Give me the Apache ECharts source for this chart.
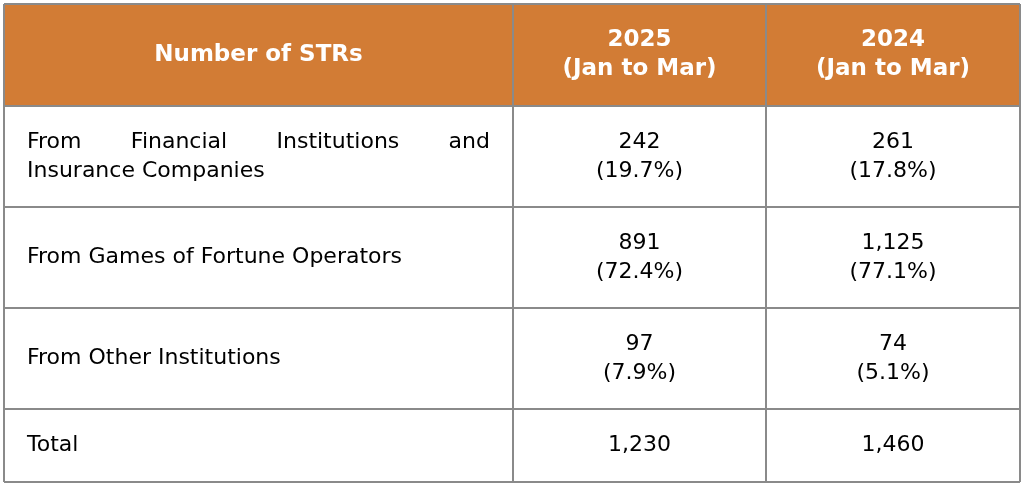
<!DOCTYPE html><html><head><meta charset="utf-8"><script src="https://cdn.jsdelivr.net/npm/echarts@6/dist/echarts.min.js"></script>
<style>html,body{margin:0;background:#fff}#c{width:1024px;height:486px}</style></head><body><div id="c"></div><script>
const headers=[["Number of STRs"],["2025","(Jan to Mar)"],["2024","(Jan to Mar)"]];
const rowLabels=[["From Financial Institutions and","Insurance Companies"],["From Games of Fortune Operators"],["From Other Institutions"],["Total"]];
const values2025=["242","891","97","1,230"];
const pct2025=["19.7%","72.4%","7.9%",null];
const values2024=["261","1,125","74","1,460"];
const pct2024=["17.8%","77.1%","5.1%",null];
const colX=[4,513,766,1020], rowY=[4,106,207,308,409,482];
const font='"DejaVu Sans", Verdana, sans-serif';
const bodyFont='22px '+font;
const ctx=document.createElement('canvas').getContext('2d');
const els=[];
els.push({type:'rect',shape:{x:colX[0],y:rowY[0],width:colX[3]-colX[0],height:rowY[1]-rowY[0]},style:{fill:'#D27C35'}});
function txt(x,y,s,o){els.push({type:'text',x,y,style:Object.assign({text:s,font:bodyFont,fill:'#000',textVerticalAlign:'middle',textAlign:'left'},o)});}
function lines(arr,cx,cy,align,o){const lh=29;arr.forEach((s,i)=>txt(cx,cy+(i-(arr.length-1)/2)*lh,s,Object.assign({textAlign:align},o)));}
headers.forEach((h,i)=>{const cx=i==0?(colX[0]+colX[1])/2:(colX[i]+colX[i+1])/2;lines(h,cx,(rowY[0]+rowY[1])/2,'center',{fill:'#fff',font:'bold 23px '+font});});
rowLabels.forEach((r,i)=>{const cy=(rowY[i+1]+rowY[i+2])/2;
 r.forEach((s,j)=>{const y=cy+(j-(r.length-1)/2)*29;
  if(r.length>1&&j<r.length-1){ctx.font='22px DejaVu Sans';const w=s.split(' ');const tot=w.reduce((a,b)=>a+ctx.measureText(b).width,0);const gap=(490-27-tot)/(w.length-1);let x=27;w.forEach(wd=>{txt(x,y,wd);x+=ctx.measureText(wd).width+gap;});}
  else txt(27,y,s);});
 const a=[values2025[i]];if(pct2025[i])a.push('('+pct2025[i]+')');lines(a,(colX[1]+colX[2])/2,cy,'center');
 const b=[values2024[i]];if(pct2024[i])b.push('('+pct2024[i]+')');lines(b,(colX[2]+colX[3])/2,cy,'center');});
const bc='#8a8a8a';
rowY.forEach(y=>els.push({type:'line',shape:{x1:colX[0],y1:y,x2:colX[3],y2:y},style:{stroke:bc,lineWidth:2}}));
colX.forEach(x=>els.push({type:'line',shape:{x1:x,y1:rowY[0],x2:x,y2:rowY[5]},style:{stroke:bc,lineWidth:2}}));
const ch=echarts.init(document.getElementById('c'));
ch.setOption({animation:false,graphic:{elements:els}});
</script></body></html>
